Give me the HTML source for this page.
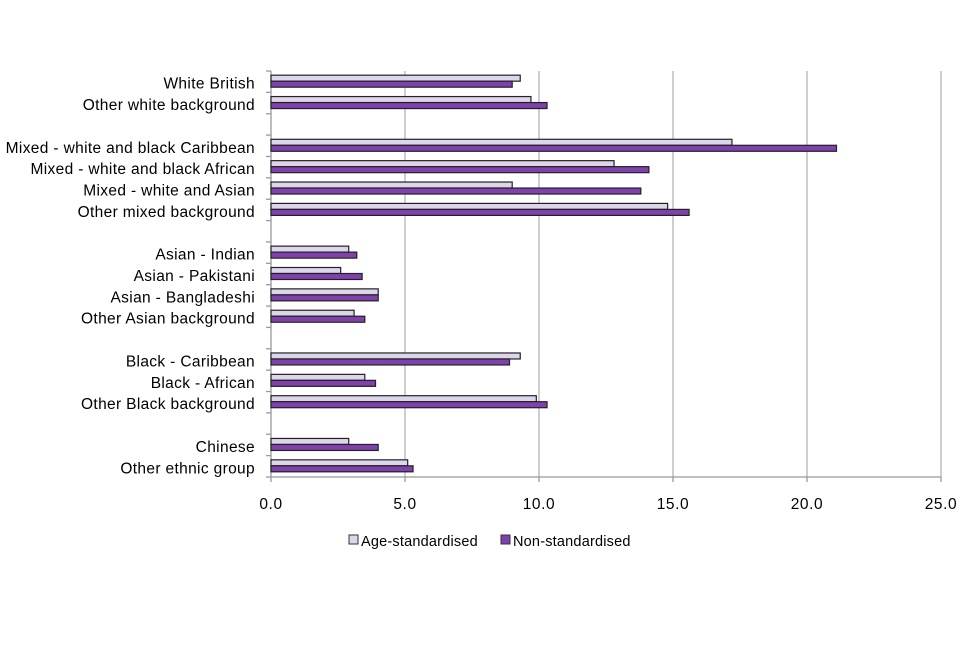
<!DOCTYPE html>
<html><head><meta charset="utf-8"><style>
html,body{margin:0;padding:0;background:#fff;}
svg text{font-family:"Liberation Sans",sans-serif;fill:#000;}
</style></head><body>
<svg id="chart" width="960" height="640" viewBox="0 0 960 640" xmlns="http://www.w3.org/2000/svg"></svg>
<script>
const categories = ["White British","Other white background",null,"Mixed - white and black Caribbean","Mixed - white and black African","Mixed - white and Asian","Other mixed background",null,"Asian - Indian","Asian - Pakistani","Asian - Bangladeshi","Other Asian background",null,"Black - Caribbean","Black - African","Other Black background",null,"Chinese","Other ethnic group"];
const ageStandardised = [9.3,9.7,null,17.2,12.8,9.0,14.8,null,2.9,2.6,4.0,3.1,null,9.3,3.5,9.9,null,2.9,5.1];
const nonStandardised = [9.0,10.3,null,21.1,14.1,13.8,15.6,null,3.2,3.4,4.0,3.5,null,8.9,3.9,10.3,null,4.0,5.3];
const xTicks = [0,5,10,15,20,25];
const xTickLabels = ["0.0","5.0","10.0","15.0","20.0","25.0"];

const svg = document.getElementById('chart');
const NS = 'http://www.w3.org/2000/svg';
const x0 = 271, x1 = 941, yTop = 71, yBot = 477;
const xScale = v => x0 + (v / 25) * (x1 - x0);
const rowH = (yBot - yTop) / categories.length;
const yCenter = i => yTop + (i + 0.5) * rowH;
function mk(tag, attrs){const e=document.createElementNS(NS,tag);for(const k in attrs)e.setAttribute(k,attrs[k]);svg.appendChild(e);return e;}

xTicks.forEach((t,i)=>{
  if(t>0){const g=mk('line',{x1:xScale(t),x2:xScale(t),y1:yTop,y2:yBot,stroke:'#b3b3b3','stroke-width':1.3});
  
  }
  const tx=mk('text',{x:xScale(t),y:509,'text-anchor':'middle','font-size':15.5,'letter-spacing':0.6});
  tx.textContent=xTickLabels[i];
  
  
});
const ya=mk('line',{x1:x0,x2:x0,y1:yTop,y2:yBot,stroke:'#999','stroke-width':1.3});


const xa=mk('line',{x1:x0,x2:x1,y1:yBot,y2:yBot,stroke:'#999','stroke-width':1.3});


for(let i=0;i<=categories.length;i++){
  const y=yTop+i*rowH;
  const tk=mk('line',{x1:x0-5,x2:x0,y1:y,y2:y,stroke:'#999','stroke-width':1.3});
  
  
}
xTicks.forEach(t=>{const tk=mk('line',{x1:xScale(t),x2:xScale(t),y1:yBot,y2:yBot+5,stroke:'#999','stroke-width':1.3});
  
  });

categories.forEach((c,i)=>{
  if(c===null)return;
  const cy=yCenter(i);
  const lb=mk('text',{x:255,y:cy+7,'text-anchor':'end','font-size':15.5,'letter-spacing':0.35});
  lb.textContent=c;
  
  
  const a=mk('rect',{x:x0,y:cy-6.5,width:xScale(ageStandardised[i])-x0,height:6,fill:'#ddd5ea',stroke:'#222','stroke-width':1.2});
  
  
  const n=mk('rect',{x:x0,y:cy-0.5,width:xScale(nonStandardised[i])-x0,height:6,fill:'#8040ad',stroke:'#222','stroke-width':1.2});
  
  
});

const l1=mk('rect',{x:349,y:535,width:9,height:9,fill:'#ddd5ea',stroke:'#333','stroke-width':1});


const t1=mk('text',{x:361,y:546,'font-size':14.5,'letter-spacing':0.2});t1.textContent='Age-standardised';


const l2=mk('rect',{x:501,y:535,width:9,height:9,fill:'#8040ad',stroke:'#333','stroke-width':1});


const t2=mk('text',{x:513,y:546,'font-size':14.5,'letter-spacing':0.2});t2.textContent='Non-standardised';


</script>
</body></html>
